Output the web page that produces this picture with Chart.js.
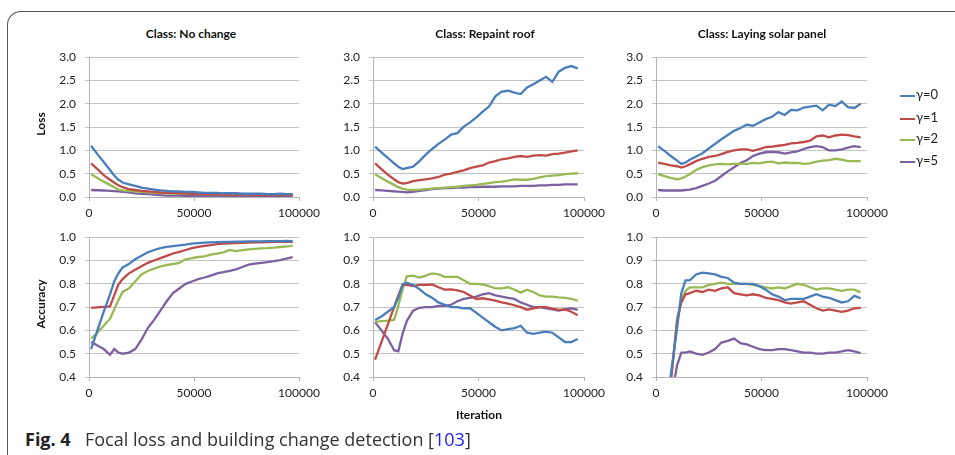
<!DOCTYPE html>
<html>
<head>
<meta charset="utf-8">
<script src="https://cdn.jsdelivr.net/npm/chart.js@4.4.0/dist/chart.umd.min.js"></script>
<style>
  body { margin: 0; background: #fff; width: 955px; height: 455px; overflow: hidden; position: relative; font-family: Lato, sans-serif; }
  .frame { position: absolute; left: 7px; top: 11px; width: 1000px; height: 500px; border-top: 1.5px solid #555; border-left: 1.5px solid #555; border-top-left-radius: 14px; }
  canvas { position: absolute; }
  .t { position: absolute; font-weight: bold; font-size: 12px; color: #111; white-space: nowrap; transform: translate(-50%, -50%); }
  .rot { transform: translate(-50%, -50%) rotate(-90deg); }
  .leg { position: absolute; left: 900px; font-size: 13px; color: #222; white-space: nowrap; transform: translateY(-50%); }
  .leg span { display: inline-block; width: 15px; height: 0; border-top: 2.5px solid; vertical-align: middle; margin-right: 1px; }
  .cap { position: absolute; top: 439px; transform: translateY(-50%); font-family: "Open Sans", sans-serif; font-size: 18px; color: #333; white-space: nowrap; }
</style>
</head>
<body>
<div class="frame"></div>

<canvas id="c1"></canvas>
<canvas id="c2"></canvas>
<canvas id="c3"></canvas>
<canvas id="c4"></canvas>
<canvas id="c5"></canvas>
<canvas id="c6"></canvas>

<div class="t" style="left:191px; top:33px;">Class: No change</div>
<div class="t" style="left:485px; top:33px;">Class: Repaint roof</div>
<div class="t" style="left:762px; top:33px;">Class: Laying solar panel</div>
<div class="t rot" style="left:40px; top:124px;">Loss</div>
<div class="t rot" style="left:40px; top:304px;">Accuracy</div>
<div class="t" style="left:479px; top:414px;">Iteration</div>

<div id="legend"></div>

<div class="cap" style="left:25px; font-weight:bold; color:#222;">Fig. 4</div>
<div class="cap" style="left:85px;">Focal loss and building change detection [<span style="color:#1a1aff;">103</span>]</div>

<script>
// iterations
var iterations = [1000, 4000, 7000, 10000, 12000, 14000, 16000, 19000, 22000, 25000, 28000, 31000, 34000, 37000, 40000, 43000, 46000, 49000, 52000, 55000, 58000, 61000, 64000, 67000, 70000, 73000, 76000, 79000, 82000, 85000, 88000, 91000, 94000, 97000];

// Class: No change - loss
var ncLossG0 = [1.10, 0.92, 0.75, 0.58, 0.46, 0.37, 0.31, 0.27, 0.24, 0.20, 0.18, 0.16, 0.14, 0.13, 0.12, 0.12, 0.11, 0.11, 0.10, 0.09, 0.09, 0.09, 0.08, 0.08, 0.08, 0.07, 0.07, 0.07, 0.07, 0.06, 0.06, 0.07, 0.06, 0.06];
var ncLossG1 = [0.72, 0.60, 0.47, 0.37, 0.31, 0.25, 0.21, 0.17, 0.15, 0.13, 0.12, 0.11, 0.10, 0.09, 0.09, 0.08, 0.08, 0.07, 0.07, 0.06, 0.06, 0.06, 0.05, 0.05, 0.05, 0.05, 0.05, 0.04, 0.04, 0.04, 0.04, 0.04, 0.04, 0.04];
var ncLossG2 = [0.49, 0.41, 0.33, 0.26, 0.21, 0.16, 0.14, 0.13, 0.12, 0.11, 0.10, 0.09, 0.09, 0.08, 0.08, 0.07, 0.07, 0.07, 0.06, 0.06, 0.06, 0.06, 0.05, 0.05, 0.05, 0.05, 0.05, 0.05, 0.05, 0.05, 0.05, 0.05, 0.05, 0.05];
var ncLossG5 = [0.15, 0.145, 0.14, 0.13, 0.125, 0.12, 0.11, 0.10, 0.08, 0.07, 0.06, 0.05, 0.04, 0.03, 0.03, 0.03, 0.02, 0.02, 0.02, 0.02, 0.02, 0.02, 0.02, 0.02, 0.02, 0.02, 0.02, 0.02, 0.02, 0.02, 0.02, 0.02, 0.02, 0.02];

// Class: Repaint roof - loss
var rrLossG0 = [1.08, 0.96, 0.84, 0.72, 0.65, 0.60, 0.62, 0.65, 0.77, 0.91, 1.03, 1.14, 1.23, 1.34, 1.37, 1.51, 1.60, 1.71, 1.83, 1.94, 2.16, 2.26, 2.28, 2.24, 2.21, 2.35, 2.42, 2.50, 2.58, 2.47, 2.69, 2.77, 2.81, 2.76];
var rrLossG1 = [0.72, 0.60, 0.48, 0.38, 0.32, 0.29, 0.30, 0.34, 0.36, 0.38, 0.40, 0.43, 0.48, 0.50, 0.54, 0.57, 0.62, 0.65, 0.68, 0.74, 0.77, 0.81, 0.83, 0.86, 0.88, 0.86, 0.89, 0.90, 0.89, 0.92, 0.93, 0.95, 0.98, 1.00];
var rrLossG2 = [0.49, 0.41, 0.33, 0.26, 0.21, 0.18, 0.16, 0.15, 0.16, 0.17, 0.18, 0.19, 0.20, 0.21, 0.22, 0.24, 0.25, 0.26, 0.28, 0.30, 0.32, 0.33, 0.35, 0.38, 0.37, 0.37, 0.39, 0.42, 0.45, 0.46, 0.47, 0.49, 0.50, 0.51];
var rrLossG5 = [0.15, 0.14, 0.13, 0.12, 0.115, 0.11, 0.10, 0.11, 0.13, 0.15, 0.17, 0.18, 0.19, 0.19, 0.20, 0.20, 0.21, 0.21, 0.22, 0.22, 0.22, 0.23, 0.23, 0.23, 0.24, 0.24, 0.24, 0.25, 0.25, 0.26, 0.26, 0.27, 0.27, 0.27];

// Class: Laying solar panel - loss
var slLossG0 = [1.09, 0.99, 0.88, 0.78, 0.71, 0.74, 0.80, 0.87, 0.94, 1.04, 1.14, 1.24, 1.33, 1.42, 1.48, 1.55, 1.53, 1.60, 1.67, 1.72, 1.82, 1.76, 1.87, 1.86, 1.92, 1.94, 1.96, 1.86, 1.98, 1.95, 2.05, 1.93, 1.91, 2.00];
var slLossG1 = [0.74, 0.71, 0.68, 0.66, 0.63, 0.66, 0.70, 0.77, 0.82, 0.86, 0.88, 0.92, 0.97, 1.00, 1.02, 1.02, 0.99, 1.03, 1.07, 1.08, 1.10, 1.12, 1.15, 1.16, 1.18, 1.21, 1.30, 1.32, 1.28, 1.32, 1.34, 1.33, 1.30, 1.28];
var slLossG2 = [0.49, 0.45, 0.41, 0.38, 0.40, 0.44, 0.49, 0.58, 0.64, 0.68, 0.70, 0.71, 0.70, 0.71, 0.71, 0.71, 0.73, 0.72, 0.75, 0.76, 0.72, 0.74, 0.73, 0.73, 0.71, 0.72, 0.76, 0.78, 0.79, 0.82, 0.80, 0.77, 0.77, 0.77];
var slLossG5 = [0.15, 0.14, 0.14, 0.14, 0.14, 0.15, 0.16, 0.19, 0.24, 0.29, 0.35, 0.45, 0.55, 0.64, 0.73, 0.79, 0.88, 0.93, 0.96, 0.97, 0.96, 0.93, 0.96, 0.98, 1.03, 1.07, 1.09, 1.07, 1.00, 1.00, 1.02, 1.06, 1.09, 1.07];

// Class: No change - accuracy
var ncAccG0 = [0.52, 0.60, 0.68, 0.755, 0.81, 0.845, 0.87, 0.885, 0.905, 0.92, 0.935, 0.945, 0.953, 0.958, 0.962, 0.965, 0.968, 0.972, 0.975, 0.977, 0.978, 0.979, 0.98, 0.98, 0.981, 0.981, 0.982, 0.982, 0.982, 0.983, 0.983, 0.983, 0.984, 0.983];
var ncAccG1 = [0.697, 0.699, 0.701, 0.703, 0.75, 0.797, 0.82, 0.845, 0.86, 0.875, 0.89, 0.90, 0.91, 0.92, 0.93, 0.937, 0.945, 0.953, 0.958, 0.963, 0.966, 0.97, 0.972, 0.974, 0.975, 0.976, 0.977, 0.978, 0.978, 0.979, 0.98, 0.98, 0.98, 0.98];
var ncAccG2 = [0.565, 0.59, 0.62, 0.65, 0.69, 0.73, 0.765, 0.78, 0.81, 0.84, 0.855, 0.865, 0.875, 0.88, 0.885, 0.89, 0.905, 0.91, 0.915, 0.918, 0.925, 0.93, 0.935, 0.945, 0.94, 0.945, 0.948, 0.95, 0.952, 0.953, 0.955, 0.958, 0.96, 0.964];
var ncAccG5 = [0.55, 0.535, 0.52, 0.495, 0.52, 0.505, 0.50, 0.505, 0.52, 0.56, 0.61, 0.645, 0.685, 0.725, 0.76, 0.78, 0.80, 0.81, 0.82, 0.827, 0.835, 0.845, 0.85, 0.855, 0.862, 0.872, 0.882, 0.887, 0.89, 0.893, 0.897, 0.902, 0.908, 0.914];

// Class: Repaint roof - accuracy
var rrAccG0 = [0.645, 0.66, 0.68, 0.70, 0.74, 0.797, 0.805, 0.795, 0.777, 0.755, 0.74, 0.72, 0.71, 0.70, 0.70, 0.695, 0.695, 0.675, 0.655, 0.635, 0.615, 0.60, 0.605, 0.61, 0.62, 0.59, 0.585, 0.59, 0.595, 0.59, 0.57, 0.55, 0.55, 0.563];
var rrAccG1 = [0.475, 0.55, 0.625, 0.70, 0.75, 0.795, 0.795, 0.79, 0.795, 0.795, 0.797, 0.785, 0.775, 0.776, 0.772, 0.765, 0.75, 0.735, 0.738, 0.733, 0.728, 0.72, 0.715, 0.708, 0.70, 0.688, 0.695, 0.70, 0.70, 0.693, 0.688, 0.69, 0.68, 0.665];
var rrAccG2 = [0.637, 0.64, 0.642, 0.645, 0.705, 0.775, 0.832, 0.835, 0.827, 0.835, 0.845, 0.84, 0.83, 0.83, 0.83, 0.815, 0.80, 0.80, 0.797, 0.79, 0.78, 0.78, 0.785, 0.775, 0.762, 0.775, 0.765, 0.75, 0.745, 0.745, 0.742, 0.74, 0.735, 0.728];
var rrAccG5 = [0.635, 0.60, 0.565, 0.515, 0.51, 0.585, 0.64, 0.685, 0.697, 0.70, 0.70, 0.705, 0.705, 0.71, 0.725, 0.735, 0.74, 0.745, 0.755, 0.76, 0.75, 0.745, 0.74, 0.735, 0.72, 0.71, 0.70, 0.70, 0.695, 0.69, 0.685, 0.69, 0.695, 0.688];

// Class: Laying solar panel - accuracy (starts below the axis)
var slAccG0 = [0.05, 0.2, 0.41, 0.61, 0.76, 0.815, 0.815, 0.84, 0.848, 0.845, 0.84, 0.83, 0.825, 0.805, 0.80, 0.80, 0.80, 0.79, 0.775, 0.755, 0.745, 0.73, 0.735, 0.735, 0.735, 0.745, 0.755, 0.745, 0.74, 0.73, 0.72, 0.725, 0.748, 0.738];
var slAccG1 = [0.05, 0.2, 0.38, 0.64, 0.72, 0.755, 0.76, 0.77, 0.765, 0.775, 0.77, 0.78, 0.785, 0.76, 0.755, 0.75, 0.755, 0.75, 0.74, 0.735, 0.73, 0.72, 0.715, 0.72, 0.725, 0.71, 0.695, 0.685, 0.69, 0.685, 0.68, 0.685, 0.695, 0.697];
var slAccG2 = [0.05, 0.2, 0.37, 0.65, 0.73, 0.77, 0.785, 0.785, 0.785, 0.795, 0.80, 0.805, 0.80, 0.80, 0.80, 0.80, 0.795, 0.79, 0.785, 0.78, 0.785, 0.78, 0.79, 0.80, 0.795, 0.785, 0.775, 0.78, 0.78, 0.775, 0.77, 0.775, 0.775, 0.763];
var slAccG5 = [0.05, 0.15, 0.3, 0.45, 0.505, 0.505, 0.51, 0.50, 0.495, 0.505, 0.52, 0.548, 0.555, 0.565, 0.545, 0.54, 0.53, 0.52, 0.515, 0.515, 0.52, 0.52, 0.515, 0.51, 0.505, 0.505, 0.50, 0.50, 0.505, 0.505, 0.51, 0.515, 0.51, 0.503];

var gammaLabels = ["γ=0", "γ=1", "γ=2", "γ=5"];
var gammaColors = ["#4a7ebb", "#be4b48", "#98b954", "#7d60a0"];

Chart.defaults.font.family = "Lato, sans-serif";
Chart.defaults.font.size = 12;
Chart.defaults.color = "#222";

function makePanel(id, left, top, w, h, yMin, yMax, yStep, series) {
    var canvas = document.getElementById(id);
    canvas.width = w + 90;
    canvas.height = h + 40;
    canvas.style.left = (left - 60) + "px";
    canvas.style.top = (top - 10) + "px";

    var datasets = series.map(function(vals, k) {
        return {
            label: gammaLabels[k],
            data: iterations.map(function(x, i) { return { x: x, y: vals[i] }; }),
            borderColor: gammaColors[k],
            borderWidth: 2.3,
            pointRadius: 0,
            tension: 0,
            fill: false
        };
    });

    new Chart(canvas.getContext("2d"), {
        type: "line",
        data: { datasets: datasets },
        options: {
            responsive: false,
            animation: false,
            devicePixelRatio: 1,
            layout: { padding: { left: 0, top: 10, right: 30, bottom: 0 } },
            plugins: { legend: { display: false }, tooltip: { enabled: false } },
            scales: {
                x: {
                    type: "linear",
                    min: 0,
                    max: 100000,
                    afterFit: function(s) { s.height = 30; },
                    ticks: { stepSize: 50000, padding: 5, maxRotation: 0, callback: function(v) { return String(v); } },
                    grid: { drawOnChartArea: false, tickLength: 4, color: "#b5b5b5" },
                    border: { color: "#b5b5b5" }
                },
                y: {
                    min: yMin,
                    max: yMax,
                    afterFit: function(s) { s.width = 60; },
                    ticks: { stepSize: yStep, padding: 9, callback: function(v) { return v.toFixed(1); } },
                    grid: { color: "#c2c2c2", tickLength: 4 },
                    border: { color: "#b5b5b5" }
                }
            }
        }
    });
}

makePanel("c1", 89, 51, 210, 146, 0, 3, 0.5, [ncLossG0, ncLossG1, ncLossG2, ncLossG5]);
makePanel("c2", 373, 51, 211, 146, 0, 3, 0.5, [rrLossG0, rrLossG1, rrLossG2, rrLossG5]);
makePanel("c3", 656, 51, 211, 146, 0, 3, 0.5, [slLossG0, slLossG1, slLossG2, slLossG5]);
makePanel("c4", 89, 231, 210, 146, 0.4, 1.0, 0.1, [ncAccG0, ncAccG1, ncAccG2, ncAccG5]);
makePanel("c5", 373, 231, 211, 146, 0.4, 1.0, 0.1, [rrAccG0, rrAccG1, rrAccG2, rrAccG5]);
makePanel("c6", 656, 231, 211, 146, 0.4, 1.0, 0.1, [slAccG0, slAccG1, slAccG2, slAccG5]);

// legend to the right of the top-right panel
var legendY = [94, 117, 138, 160];
var legend = document.getElementById("legend");
gammaLabels.forEach(function(lbl, k) {
    var d = document.createElement("div");
    d.className = "leg";
    d.style.top = legendY[k] + "px";
    d.innerHTML = '<span style="border-color:' + gammaColors[k] + '"></span>' + lbl;
    legend.appendChild(d);
});
</script>
</body>
</html>
